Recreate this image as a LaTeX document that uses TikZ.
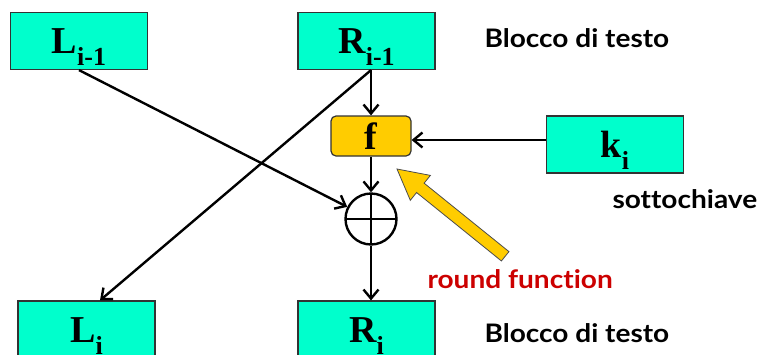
\documentclass[tikz,border=0pt]{standalone}
\usepackage{fontspec}
\setmainfont{Liberation Serif}
\newfontfamily\notefont{Lato}[FakeStretch=1.1,Ligatures=NoCommon]
\usetikzlibrary{arrows.meta}
\definecolor{blockcyan}{RGB}{0,255,204}
\definecolor{roundyellow}{RGB}{255,204,0}
\definecolor{notered}{RGB}{204,0,0}
\newcommand{\blk}[2]{#1\raisebox{-12pt}{\fontsize{26}{26}\selectfont #2}}
\tikzset{
  block/.style={draw=black!80,line width=1.2pt,fill=blockcyan,minimum width=137pt,minimum height=57pt,
    inner sep=0pt,text height=25pt,text depth=0pt,font=\fontsize{38}{38}\selectfont\bfseries},
  note/.style={anchor=base west,font=\notefont\fontsize{25.5}{25.5}\selectfont\bfseries},
  flow/.style={line width=2.4pt,-{Straight Barb[length=9pt,width=15pt]}}
}
\begin{document}
\begin{tikzpicture}[x=1pt,y=-1pt]
  \useasboundingbox (0,0) rectangle (757,354);
  \node[block] (lprev) at (79,41) {\blk{L}{i-1}};
  \node[block] (rprev) at (366.5,41) {\blk{R}{i-1}};
  \node[block] (k) at (615,144.5) {\blk{k}{i}};
  \node[block] (li) at (86.5,329.5) {\blk{L}{i}};
  \node[block] (ri) at (366.5,329.5) {\blk{R}{i}};
  \node[draw=black!80,line width=1.2pt,fill=roundyellow,rounded corners=5pt,minimum width=80pt,minimum height=40pt,
    inner sep=0pt,font=\fontsize{38}{38}\selectfont\bfseries] (f) at (371,136) {f};
  \node[circle,draw,line width=2.4pt,minimum size=51pt,inner sep=0pt,
    path picture={\draw[line width=2.4pt] (path picture bounding box.north) -- (path picture bounding box.south)
      (path picture bounding box.west) -- (path picture bounding box.east);}] (xor) at (371,219) {};
  \coordinate (kin) at ([yshift=4.5pt]k.west);
  \path [flow] (rprev.south -| f.north) edge (f.north);
  \path [flow] (f) edge (xor);
  \path [flow] (kin) edge (kin -| f.east);
  \path [flow] (lprev.south) edge (xor);
  \path [flow] (rprev.south -| f.north) edge ([xshift=13.5pt]li.north);
  \path [flow] (xor) edge (xor |- ri.north);
  \begin{scope}[shift={(397,169)},rotate=-38.9]
    \draw[fill=roundyellow,draw=black!70,line width=0.8pt]
      (0,0) -- (30,-16) -- (30,-6) -- (139,-6) -- (139,6) -- (30,6) -- (30,16) -- cycle;
  \end{scope}
  \node[note] (top) at (481,47) {Blocco di testo};
  \node[note] (bottom) at (481,342) {Blocco di testo};
  \node[note] (subkey) at (609,208) {sottochiave};
  \node[note,text=notered] (rf) at (424,288) {round function};
\end{tikzpicture}
\end{document}
